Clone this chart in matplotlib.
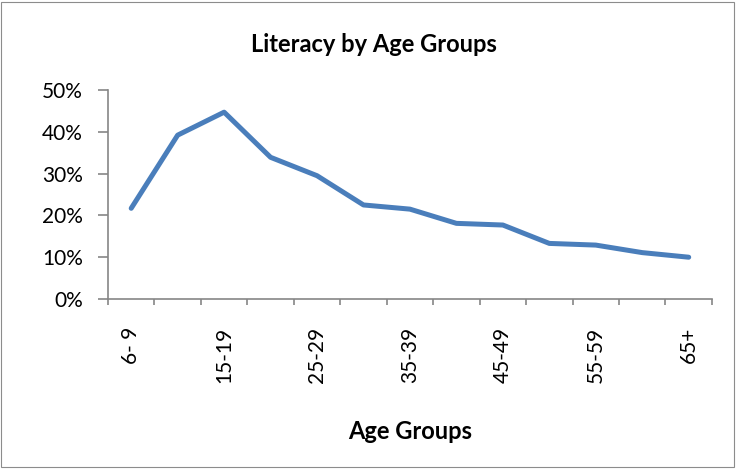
import matplotlib
matplotlib.use("Agg")
import matplotlib.pyplot as plt
from matplotlib.patches import Rectangle
from matplotlib.ticker import FixedLocator, PercentFormatter

categories = ["6- 9", "10-14", "15-19", "20-24", "25-29", "30-34", "35-39",
              "40-44", "45-49", "50-54", "55-59", "60-64", "65+"]
literacy = [0.217, 0.392, 0.447, 0.339, 0.295, 0.225, 0.215,
            0.181, 0.177, 0.133, 0.129, 0.111, 0.100]
yticks = [0, 0.1, 0.2, 0.3, 0.4, 0.5]

plt.rcParams['font.family'] = ['Lato', 'DejaVu Sans']

fig = plt.figure(figsize=(7.37, 4.70), dpi=100)
fig.patches.append(Rectangle((0.002, 0.006), 0.994, 0.99, transform=fig.transFigure,
                             fill=False, edgecolor='#8c8c8c', linewidth=0.8))
ax = fig.add_axes([0.1465, 0.3638, 0.8195, 0.4447])

x = list(range(len(categories)))
ax.plot(x, literacy, color='#4A7EBB', linewidth=3.6, solid_capstyle='round',
        solid_joinstyle='round')

ax.set_xlim(-0.5, len(categories) - 0.5)
ax.set_ylim(0, 0.5)
ax.set_yticks(yticks)
ax.yaxis.set_major_formatter(PercentFormatter(1.0, decimals=0))

ax.set_xticks(x[::2])
ax.set_xticklabels(categories[::2], rotation=90)
ax.xaxis.set_minor_locator(FixedLocator([i - 0.5 for i in range(len(categories) + 1)]))

for s in ['top', 'right']:
    ax.spines[s].set_visible(False)
for s in ['left', 'bottom']:
    ax.spines[s].set_color('#868686')
    ax.spines[s].set_linewidth(1.2)

ax.tick_params(axis='y', which='major', direction='out', length=7, width=1.2,
               color='#868686', labelsize=15, pad=11)
ax.tick_params(axis='x', which='major', length=0, labelsize=15, pad=20)
ax.tick_params(axis='x', which='minor', direction='out', length=4.5, width=1.2,
               color='#868686')

fig.text(0.507, 0.906, "Literacy by Age Groups", ha='center', va='center',
         fontsize=17, fontweight='bold')
fig.text(0.557, 0.081, "Age Groups", ha='center', va='center',
         fontsize=17, fontweight='bold')

fig.savefig("out.png", dpi=100)
